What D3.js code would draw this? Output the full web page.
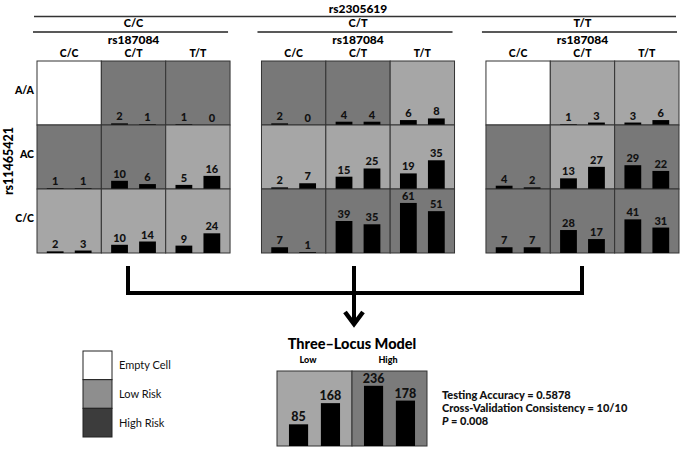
<!DOCTYPE html>
<html>
<head>
<meta charset="utf-8">
<script src="https://cdn.jsdelivr.net/npm/d3@7"></script>
<style>
  body { margin: 0; background: #fff; }
  svg { display: block; font-family: Lato, "Open Sans", sans-serif; }
</style>
</head>
<body>
<div id="chart"></div>
<script>
// Genotypes of the three loci
const outerGenotypes = ["C/C", "C/T", "T/T"];   // rs2305619
const colGenotypes = ["C/C", "C/T", "T/T"];     // rs187084
const rowGenotypes = ["A/A", "AC", "C/C"];      // rs11465421

// Left bar (cases) and right bar (controls) per cell, [panel][row][col]
const cellCases = [
  [[null, 2, 1], [1, 10, 5], [2, 10, 9]],
  [[2, 4, 6], [2, 15, 19], [7, 39, 61]],
  [[null, 1, 3], [4, 13, 29], [7, 28, 41]]
];
const cellControls = [
  [[null, 1, 0], [1, 6, 16], [3, 14, 24]],
  [[0, 4, 8], [7, 25, 35], [1, 35, 51]],
  [[null, 3, 6], [2, 27, 22], [7, 17, 31]]
];
const cellRisk = [
  [["empty", "high", "high"], ["high", "high", "low"], ["low", "low", "low"]],
  [["high", "high", "low"], ["low", "low", "low"], ["high", "high", "high"]],
  [["empty", "low", "low"], ["high", "low", "high"], ["high", "high", "high"]]
];

// Three-locus model
const modelGroups = ["Low", "High"];
const modelCases = [85, 236];
const modelControls = [168, 178];
const modelStats = ["Testing Accuracy = 0.5878", "Cross-Validation Consistency = 10/10", "= 0.008"];

// Legend
const legendLabels = ["Empty Cell", "Low Risk", "High Risk"];

const width = 685, height = 454;
const BOLD = 900;
const gridFill = { empty: "#ffffff", low: "#a6a6a6", high: "#787878" };
const legendFill = { "Empty Cell": "#ffffff", "Low Risk": "#8e8e8e", "High Risk": "#3c3c3c" };

const svg = d3.select("#chart").append("svg")
  .attr("width", width)
  .attr("height", height);

// Panel layout
const xOuter = d3.scaleBand().domain(outerGenotypes).range([37, 679]).paddingInner(0.14);
const panelW = xOuter.bandwidth();
const xCol = d3.scaleBand().domain(colGenotypes).range([0, panelW]);
const yRow = d3.scaleBand().domain(rowGenotypes).range([61, 253]);
const xBar = d3.scaleBand().domain(["case", "control"]).range([0, xCol.bandwidth()])
  .paddingInner(0.4).paddingOuter(0.35);
const yH = d3.scaleLinear().domain([0, 78]).range([0, yRow.bandwidth()]);

// Top header
svg.append("text")
  .attr("x", (xOuter.range()[0] + xOuter.range()[1]) / 2)
  .attr("y", 13)
  .attr("text-anchor", "middle")
  .attr("font-size", "12px").attr("font-weight", BOLD)
  .text("rs2305619");
svg.append("line")
  .attr("x1", xOuter.range()[0] - 3).attr("x2", xOuter.range()[1] - 3)
  .attr("y1", 16.5).attr("y2", 16.5)
  .attr("stroke", "#333").attr("stroke-width", 1.5);

outerGenotypes.forEach((g, p) => {
  const px = xOuter(g);
  const panel = svg.append("g").attr("transform", `translate(${px},0)`);

  panel.append("text")
    .attr("x", panelW / 2).attr("y", 27)
    .attr("text-anchor", "middle")
    .attr("font-size", "11px").attr("font-weight", BOLD)
    .text(g);
  panel.append("line")
    .attr("x1", -4).attr("x2", panelW - 2)
    .attr("y1", 32).attr("y2", 32)
    .attr("stroke", "#222").attr("stroke-width", 1.5);
  panel.append("text")
    .attr("x", panelW / 2).attr("y", 44)
    .attr("text-anchor", "middle")
    .attr("font-size", "12px").attr("font-weight", BOLD)
    .text("rs187084");

  // column labels
  panel.selectAll("text.col")
    .data(colGenotypes)
    .enter().append("text")
    .attr("class", "col")
    .attr("x", d => xCol(d) + xCol.bandwidth() / 2)
    .attr("y", 57)
    .attr("text-anchor", "middle")
    .attr("font-size", "10.5px").attr("font-weight", BOLD)
    .text(d => d);

  rowGenotypes.forEach((r, ri) => {
    colGenotypes.forEach((c, ci) => {
      const cx = xCol(c), cy = yRow(r);
      const cw = xCol.bandwidth(), ch = yRow.bandwidth();
      const cell = panel.append("g").attr("transform", `translate(${cx},${cy})`);
      cell.append("rect")
        .attr("width", cw).attr("height", ch)
        .attr("fill", gridFill[cellRisk[p][ri][ci]])
        .attr("stroke", "#333").attr("stroke-width", 1);

      const caseV = cellCases[p][ri][ci];
      if (caseV === null) return;
      const vals = [["case", caseV], ["control", cellControls[p][ri][ci]]];
      vals.forEach(([k, v]) => {
        const h = yH(v);
        cell.append("rect")
          .attr("x", xBar(k)).attr("y", ch - h)
          .attr("width", xBar.bandwidth()).attr("height", h)
          .attr("fill", "#000");
        cell.append("text")
          .attr("x", xBar(k) + xBar.bandwidth() / 2)
          .attr("y", ch - h - 3)
          .attr("text-anchor", "middle")
          .attr("font-size", "11px").attr("font-weight", BOLD)
          .attr("fill", "#111")
          .text(v);
      });
    });
  });
});

// Row labels and y title
svg.selectAll("text.row")
  .data(rowGenotypes)
  .enter().append("text")
  .attr("class", "row")
  .attr("x", 34)
  .attr("y", d => yRow(d) + yRow.bandwidth() / 2 + 1)
  .attr("text-anchor", "end")
  .attr("font-size", "10.5px").attr("font-weight", BOLD)
  .text(d => d);
svg.append("text")
  .attr("transform", `translate(13,${(yRow.range()[0] + yRow.range()[1]) / 2 + 4}) rotate(-90)`)
  .attr("text-anchor", "middle")
  .attr("font-size", "12.5px").attr("font-weight", BOLD)
  .text("rs11465421");

// Connector with arrow
const connX = [128, 354, 582];
const connTop = 266, connY = 293;
connX.forEach(x => {
  svg.append("line")
    .attr("x1", x).attr("x2", x)
    .attr("y1", connTop).attr("y2", connY)
    .attr("stroke", "#000").attr("stroke-width", 4);
});
svg.append("line")
  .attr("x1", connX[0] - 2).attr("x2", connX[2] + 2)
  .attr("y1", connY).attr("y2", connY)
  .attr("stroke", "#000").attr("stroke-width", 4);
svg.append("line")
  .attr("x1", connX[1]).attr("x2", connX[1])
  .attr("y1", connY).attr("y2", 324)
  .attr("stroke", "#000").attr("stroke-width", 4);
svg.append("path")
  .attr("d", `M${connX[1] - 9},${312} L${connX[1]},${324} L${connX[1] + 9},${312}`)
  .attr("fill", "none").attr("stroke", "#000").attr("stroke-width", 4.5);

// Legend
const legend = svg.append("g").attr("transform", "translate(83,351)");
const yLeg = d3.scaleBand().domain(legendLabels).range([0, 86]);
legend.selectAll("rect")
  .data(legendLabels)
  .enter().append("rect")
  .attr("x", 0).attr("y", d => yLeg(d))
  .attr("width", 29).attr("height", yLeg.bandwidth())
  .attr("fill", d => legendFill[d])
  .attr("stroke", "#222").attr("stroke-width", 1);
legend.selectAll("text")
  .data(legendLabels)
  .enter().append("text")
  .attr("x", 36).attr("y", d => yLeg(d) + yLeg.bandwidth() / 2 + 4)
  .attr("font-size", "11px")
  .attr("fill", "#111")
  .text(d => d);

// Three-locus model
const model = svg.append("g").attr("transform", "translate(277,371)");
const xModel = d3.scaleBand().domain(modelGroups).range([0, 150]);
const xMBar = d3.scaleBand().domain(["case", "control"]).range([0, xModel.bandwidth()])
  .paddingInner(0.4).paddingOuter(0.375);
const mh = 75;
const yM = d3.scaleLinear().domain([0, 294]).range([0, mh]);

svg.append("text")
  .attr("x", 277 + 75).attr("y", 349)
  .attr("text-anchor", "middle")
  .attr("font-size", "14.5px").attr("font-weight", BOLD)
  .text("Three\u2013Locus Model");

modelGroups.forEach((g, i) => {
  const gx = xModel(g);
  model.append("rect")
    .attr("x", gx).attr("y", 0)
    .attr("width", xModel.bandwidth()).attr("height", mh)
    .attr("fill", i === 0 ? gridFill.low : "#7b7b7b")
    .attr("stroke", "#333").attr("stroke-width", 1);
  model.append("text")
    .attr("x", gx + (i === 0 ? 31 : 36)).attr("y", -8)
    .attr("text-anchor", "middle")
    .attr("font-size", "9px").attr("font-weight", BOLD)
    .text(g);
  [["case", modelCases[i]], ["control", modelControls[i]]].forEach(([k, v]) => {
    const h = yM(v);
    model.append("rect")
      .attr("x", gx + xMBar(k)).attr("y", mh - h)
      .attr("width", xMBar.bandwidth()).attr("height", h)
      .attr("fill", "#000");
    model.append("text")
      .attr("x", gx + xMBar(k) + xMBar.bandwidth() / 2)
      .attr("y", mh - h - 3)
      .attr("text-anchor", "middle")
      .attr("font-size", "12.5px").attr("font-weight", BOLD)
      .attr("fill", "#111")
      .text(v);
  });
});

// Stats
const stats = svg.append("g").attr("transform", "translate(442,399)");
modelStats.forEach((s, i) => {
  const t = stats.append("text")
    .attr("x", 0).attr("y", i * 13)
    .attr("font-size", "11px").attr("font-weight", BOLD)
    .attr("fill", "#111");
  if (i === 2) {
    t.append("tspan").attr("font-style", "italic").text("P");
    t.append("tspan").text(" " + s);
  } else {
    t.text(s);
  }
});
</script>
</body>
</html>
